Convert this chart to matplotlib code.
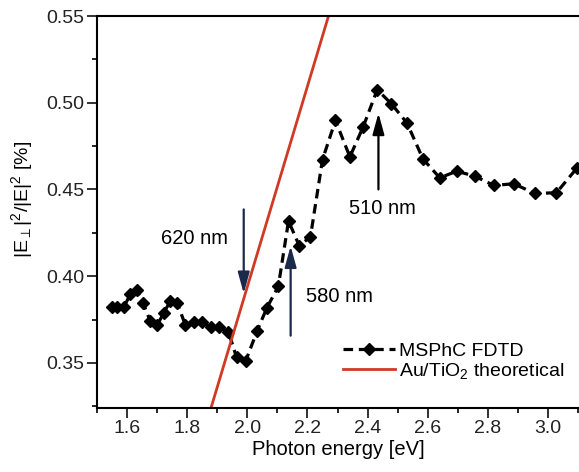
import matplotlib
matplotlib.use('Agg')
from matplotlib import pyplot as plt

plt.rcParams['font.family'] = ['Liberation Sans', 'DejaVu Sans']
plt.rcParams['mathtext.fontset'] = 'custom'
plt.rcParams['mathtext.rm'] = 'Liberation Sans'
plt.rcParams['mathtext.it'] = 'Liberation Sans'

# MSPhC FDTD simulation
fdtd_energy = [1.550, 1.568, 1.589, 1.611, 1.632, 1.653, 1.677, 1.700, 1.722, 1.744,
               1.767, 1.794, 1.821, 1.849, 1.879, 1.907, 1.937, 1.964, 1.995, 2.033,
               2.064, 2.103, 2.137, 2.173, 2.210, 2.250, 2.293, 2.341, 2.385, 2.432,
               2.479, 2.531, 2.584, 2.640, 2.696, 2.756, 2.820, 2.886, 2.956, 3.028,
               3.097]
fdtd_ratio = [0.382, 0.382, 0.382, 0.3897, 0.392, 0.3845, 0.3743, 0.3718, 0.3787, 0.3858,
              0.3845, 0.3718, 0.3737, 0.3734, 0.3705, 0.3705, 0.368, 0.3533, 0.3513, 0.3686,
              0.3814, 0.3941, 0.4318, 0.4174, 0.4228, 0.4672, 0.4898, 0.4688, 0.486, 0.5075,
              0.4994, 0.4883, 0.4676, 0.4567, 0.4605, 0.4577, 0.4523, 0.4533, 0.4477, 0.4481,
              0.4625]

# Au/TiO2 theoretical line (end points)
theory_energy = [1.87, 2.28]
theory_ratio = [0.3187, 0.5558]

# wavelength markers: (label, energy, arrow start, arrow end)
markers = [('620 nm', 1.988, 0.4385, 0.3900),
           ('580 nm', 2.144, 0.3657, 0.4174),
           ('510 nm', 2.436, 0.450, 0.494)]

fig = plt.figure(figsize=(5.79, 4.72), dpi=100)
ax = fig.add_axes([0.1675, 0.1356, 0.8325, 0.8305])

ax.plot(fdtd_energy, fdtd_ratio, color='black', linestyle=(0, (3.0, 1.8)), lw=2.3,
        marker='D', markersize=6, label='MSPhC FDTD')
ax.plot(theory_energy, theory_ratio, color='#d03a25', lw=2.0,
        label='Au/TiO$_2$ theoretical')

arrow_cols = ['#1b2a4a', '#1b2a4a', 'black']
for (lab, e, y0, y1), col in zip(markers, arrow_cols):
    ax.annotate('', xy=(e, y1), xytext=(e, y0),
                arrowprops=dict(arrowstyle='-|>,head_length=0.8,head_width=0.22',
                                color=col, lw=1.6, mutation_scale=16,
                                shrinkA=0, shrinkB=0))

ax.text(1.937, 0.4218, '620 nm', fontsize=14.5, ha='right', va='center')
ax.text(2.196, 0.388, '580 nm', fontsize=14.5, ha='left', va='center')
ax.text(2.449, 0.439, '510 nm', fontsize=14.5, ha='center', va='center')

ax.set_xlim(1.5, 3.103)
ax.set_ylim(0.324, 0.55)
ax.set_xticks([1.6, 1.8, 2.0, 2.2, 2.4, 2.6, 2.8, 3.0])
ax.set_xticks([1.5, 1.7, 1.9, 2.1, 2.3, 2.5, 2.7, 2.9, 3.1], minor=True)
ax.set_yticks([0.35, 0.40, 0.45, 0.50, 0.55])
ax.set_yticks([0.325, 0.375, 0.425, 0.475, 0.525], minor=True)
ax.set_xticklabels(['1.6', '1.8', '2.0', '2.2', '2.4', '2.6', '2.8', '3.0'])
ax.set_yticklabels(['0.35', '0.40', '0.45', '0.50', '0.55'])
ax.tick_params(which='major', direction='out', length=7, width=1.3, labelsize=14,
               colors='#222222', pad=2)
ax.tick_params(which='minor', direction='out', length=3.5, width=1.2)
ax.spines['right'].set_visible(False)
for s in ['left', 'bottom', 'top']:
    ax.spines[s].set_linewidth(1.5)

ax.set_xlabel('Photon energy [eV]', fontsize=14.5, labelpad=2)
ax.set_ylabel(r'|E$_\perp$|$^2$/|E|$^2$ [%]', fontsize=14)
ax.yaxis.set_label_coords(-0.128, 0.533)

ax.legend(loc='lower right', bbox_to_anchor=(0.998, 0.035), frameon=False, fontsize=14,
          handlelength=2.7, handletextpad=0.2, labelspacing=0.05, borderpad=0.2)

fig.savefig('out.png', dpi=100)
